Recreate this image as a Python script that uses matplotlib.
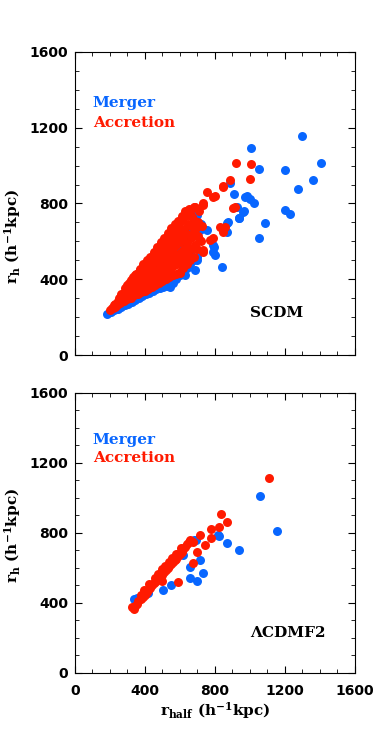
import matplotlib
matplotlib.use('Agg')
import matplotlib.pyplot as plt
from matplotlib.ticker import MultipleLocator

# SCDM panel, (r_half, r_h) in h^-1 kpc
scdm_merger = [
    (185, 216), (205, 228), (225, 235), (245, 245), (265, 255), (285, 262), (305, 270),
    (325, 280), (345, 290), (365, 300), (385, 310), (405, 320), (425, 330), (445, 340),
    (465, 350), (485, 355), (505, 360), (525, 365), (543, 361), (560, 380), (580, 400),
    (600, 420), (620, 440), (629, 422), (640, 460), (660, 480), (686, 449), (680, 500),
    (700, 520), (371, 449), (495, 590), (300, 340), (350, 380), (420, 420), (450, 470),
    (480, 450), (520, 470), (540, 520), (560, 500), (580, 560), (600, 600), (620, 560),
    (640, 620), (660, 650), (680, 700), (695, 502), (657, 537), (676, 766), (700, 740),
    (714, 660), (720, 690), (752, 660), (790, 581), (800, 528), (838, 466), (790, 546),
    (796, 572), (867, 651), (876, 704), (867, 695), (886, 906), (910, 850), (924, 783),
    (939, 722), (962, 757), (971, 836), (981, 839), (1000, 822), (1023, 801), (1004, 1091),
    (1053, 984), (1053, 618), (1084, 695), (1198, 766), (1229, 743), (1202, 977),
    (1274, 876), (1297, 1158), (1358, 924), (1404, 1012), (967, 759), (935, 723),
]
scdm_accretion = [
    (200, 240), (210, 250), (220, 250), (225, 265), (230, 270), (240, 265), (245, 285),
    (250, 300), (260, 275), (262, 300), (265, 320), (280, 285), (282, 310), (285, 335),
    (288, 355), (300, 295), (302, 320), (305, 345), (300, 370), (320, 300), (322, 330),
    (325, 360), (320, 395), (340, 315), (342, 345), (345, 375), (340, 405), (345, 420),
    (360, 320), (362, 355), (365, 390), (360, 420), (365, 440), (380, 335), (382, 370),
    (385, 400), (380, 435), (385, 460), (400, 340), (402, 375), (405, 410), (400, 445),
    (405, 475), (420, 350), (422, 385), (425, 420), (420, 460), (425, 495), (440, 360),
    (442, 400), (445, 435), (440, 470), (445, 510), (460, 370), (462, 410), (465, 450),
    (460, 490), (465, 530), (480, 380), (482, 420), (485, 460), (480, 500), (485, 545),
    (482, 565), (500, 390), (502, 430), (505, 470), (500, 515), (505, 560), (500, 585),
    (520, 400), (522, 445), (525, 490), (520, 530), (525, 575), (522, 610), (540, 410),
    (542, 455), (545, 500), (540, 545), (545, 590), (542, 630), (560, 420), (562, 470),
    (565, 515), (560, 560), (565, 610), (562, 655), (580, 430), (582, 480), (585, 530),
    (580, 580), (585, 630), (582, 680), (600, 440), (602, 495), (605, 545), (600, 595),
    (605, 650), (600, 700), (620, 460), (622, 510), (625, 560), (620, 610), (625, 665),
    (620, 720), (640, 480), (645, 530), (642, 590), (640, 640), (645, 690), (640, 740),
    (660, 500), (665, 560), (662, 620), (665, 680), (660, 750), (680, 520), (685, 580),
    (682, 650), (686, 710), (680, 780), (700, 560), (705, 630), (702, 700), (708, 760),
    (720, 600), (725, 680), (730, 790), (733, 801), (733, 545), (752, 862), (771, 607),
    (790, 836), (790, 616), (829, 677), (848, 889), (848, 651), (857, 677), (886, 924),
    (905, 775), (914, 783), (920, 1012), (1004, 1007), (1000, 928), (844, 892), (600, 431),
    (733, 554), (800, 840), (686, 783), (638, 739),
    # extra fill for the dense core
    (230, 255), (270, 300), (290, 320), (310, 330), (330, 345), (350, 360), (370, 375),
    (390, 390), (410, 395), (430, 410), (450, 420), (470, 430), (490, 445), (510, 455),
    (530, 470), (550, 480), (570, 495), (590, 510), (610, 525), (630, 545), (650, 560),
    (310, 380), (330, 410), (350, 430), (370, 455), (390, 480), (410, 500), (430, 520),
    (450, 545), (470, 570), (490, 595), (510, 620), (530, 645), (550, 670), (570, 690),
    (590, 710), (610, 735), (630, 760), (650, 770), (670, 730), (690, 670), (710, 610),
]

# Lambda CDM F2 panel
lcdm_merger = [
    (335, 420), (352, 425), (380, 440), (420, 455), (505, 473), (550, 500), (600, 682),
    (620, 670), (657, 539), (695, 526), (733, 571), (714, 644), (680, 758), (819, 787),
    (825, 783), (867, 739), (935, 701), (1057, 1010), (1152, 811), (657, 606), (690, 760),
]
lcdm_accretion = [
    (324, 375), (335, 365), (345, 380), (355, 395), (360, 410), (375, 420), (390, 430),
    (380, 445), (400, 445), (410, 460), (395, 470), (420, 470), (430, 485), (440, 500),
    (425, 505), (450, 510), (460, 520), (470, 530), (455, 540), (480, 540), (490, 555),
    (475, 565), (500, 560), (510, 575), (495, 590), (520, 585), (530, 600), (515, 610),
    (540, 610), (550, 620), (535, 630), (560, 630), (570, 645), (555, 655), (580, 650),
    (590, 665), (575, 680), (600, 680), (610, 690), (620, 705), (605, 715), (630, 720),
    (640, 735), (650, 745), (660, 760), (676, 749), (695, 692), (714, 787), (743, 730),
    (775, 771), (775, 819), (821, 834), (832, 907), (867, 863), (1107, 1111), (590, 520),
    (500, 525), (676, 625),
]

ticks = [0, 400, 800, 1200, 1600]
BLUE = '#0866ff'
RED = '#ff1a00'

plt.rcParams['mathtext.fontset'] = 'dejavuserif'
lab_font = dict(family='DejaVu Serif', weight='bold', size=11)


def panel(ax, merger, accretion, name, ylab_y, xlabels):
    ax.scatter([p[0] for p in merger], [p[1] for p in merger], s=42, c=BLUE, lw=0)
    ax.scatter([p[0] for p in accretion], [p[1] for p in accretion], s=42, c=RED, lw=0)
    ax.set_xlim(0, 1600)
    ax.set_ylim(0, 1600)
    ax.set_xticks(ticks)
    ax.set_yticks(ticks)
    ax.xaxis.set_minor_locator(MultipleLocator(100))
    ax.yaxis.set_minor_locator(MultipleLocator(100))
    ax.tick_params(which='both', direction='in', top=True, right=True)
    ax.tick_params(which='major', length=5)
    ax.tick_params(which='minor', length=3)
    ax.tick_params(axis='y', pad=5)
    ax.tick_params(axis='x', pad=8, labelbottom=xlabels)
    for lab in ax.get_xticklabels() + ax.get_yticklabels():
        lab.set_fontweight('bold')
        lab.set_fontsize(10)
    ax.text(0.063, 0.83, 'Merger', color=BLUE, transform=ax.transAxes, va='center', **lab_font)
    ax.text(0.063, 0.767, 'Accretion', color=RED, transform=ax.transAxes, va='center', **lab_font)
    ax.text(0.625, 0.14, name, color='black', transform=ax.transAxes, va='center', **lab_font)
    ax.set_ylabel(r'r$_\mathbf{h}$ (h$^{\mathbf{-1}}$kpc)', **lab_font)
    ax.yaxis.set_label_coords(-0.185, ylab_y)


fig = plt.figure(figsize=(3.74, 7.48), dpi=100)
ax1 = fig.add_axes([0.2005, 0.5254, 0.7487, 0.4051])
ax2 = fig.add_axes([0.2005, 0.1007, 0.7487, 0.3743])

panel(ax1, scdm_merger, scdm_accretion, 'SCDM', 0.39, False)
panel(ax2, lcdm_merger, lcdm_accretion, '\u039bCDMF2', 0.49, True)
ax2.set_xlabel(r'r$_\mathbf{half}$ (h$^{\mathbf{-1}}$kpc)', labelpad=2, **lab_font)

fig.savefig('out.png', dpi=100)
